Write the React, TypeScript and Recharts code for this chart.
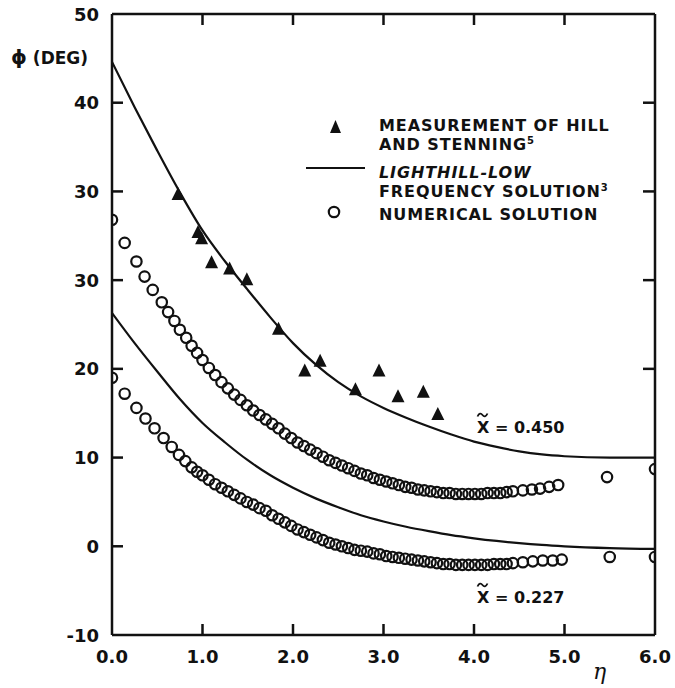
import React from 'react';
import { ComposedChart, Line, Scatter, XAxis, YAxis } from 'recharts';

// ---------- tick labels ----------
const xTicks = [0, 1, 2, 3, 4, 5, 6];
const xTickLabels = ['0.0', '1.0', '2.0', '3.0', '4.0', '5.0', '6.0'];
const topTicks = [1, 2, 3, 4, 5];
const yTicks = [-10, 0, 10, 20, 30, 40, 50, 60];
const yTickLabels = ['-10', '0', '10', '20', '30', '30', '40', '50'];
const rightTicks = [20, 30, 40, 50];

// ---------- measurement of Hill and Stenning ----------
const measX = [0.73, 0.95, 0.99, 1.10, 1.30, 1.49, 1.84, 2.13, 2.30, 2.69, 2.95, 3.16, 3.44, 3.60];
const measY = [39.6, 35.3, 34.6, 31.9, 31.2, 30.0, 24.4, 19.7, 20.8, 17.6, 19.7, 16.8, 17.3, 14.8];

// ---------- Lighthill low frequency solution ----------
const lineX = [0, 0.25, 0.5, 0.75, 1.0, 1.25, 1.5, 1.75, 2.0, 2.25, 2.5, 2.75, 3.0, 3.25, 3.5, 3.75, 4.0, 4.25, 4.5, 4.75, 5.0, 5.5, 6.0];
const lineHighY = [54.6, 49.5, 44.6, 39.9, 35.6, 32.1, 28.9, 25.8, 22.9, 20.5, 18.5, 16.9, 15.6, 14.5, 13.5, 12.6, 11.8, 11.2, 10.7, 10.35, 10.15, 10.0, 10.0];
const lineLowY = [26.3, 22.9, 19.7, 16.6, 13.9, 11.7, 9.7, 8.0, 6.6, 5.4, 4.4, 3.5, 2.8, 2.2, 1.7, 1.25, 0.9, 0.6, 0.35, 0.15, 0.0, -0.2, -0.3];

// ---------- numerical solution, x~ = 0.450 ----------
const numHighX = [
  0, 0.14, 0.27, 0.36, 0.45, 0.55, 0.62, 0.69, 0.75, 0.82, 0.88, 0.94, 1.00,
  1.07, 1.14, 1.21, 1.28, 1.35, 1.42, 1.49, 1.56, 1.63, 1.70, 1.77, 1.84, 1.91, 1.98,
  2.05, 2.12, 2.19, 2.26, 2.33, 2.40, 2.47, 2.54, 2.61, 2.68, 2.75, 2.82, 2.89, 2.96,
  3.03, 3.10, 3.17, 3.24, 3.31, 3.38, 3.45, 3.52, 3.59, 3.66, 3.73, 3.80, 3.87, 3.94,
  4.01, 4.08, 4.15, 4.22, 4.29, 4.36, 4.43, 4.54, 4.64, 4.73, 4.83, 4.93, 5.47, 6.00,
];
const numHighY = [
  36.8, 34.2, 32.1, 30.4, 28.9, 27.5, 26.4, 25.4, 24.4, 23.5, 22.6, 21.8, 21.0,
  20.1, 19.3, 18.5, 17.8, 17.1, 16.5, 15.9, 15.3, 14.8, 14.3, 13.8, 13.3, 12.7, 12.2,
  11.7, 11.3, 10.9, 10.5, 10.1, 9.7, 9.4, 9.1, 8.8, 8.5, 8.2, 8.0, 7.7, 7.5,
  7.3, 7.1, 6.9, 6.7, 6.6, 6.4, 6.3, 6.2, 6.1, 6.0, 6.0, 5.9, 5.9, 5.9,
  5.9, 5.9, 6.0, 6.0, 6.0, 6.1, 6.2, 6.3, 6.4, 6.5, 6.7, 6.9, 7.8, 8.7,
];

// ---------- numerical solution, x~ = 0.227 ----------
const numLowX = [
  0, 0.14, 0.27, 0.37, 0.47, 0.57, 0.66, 0.74, 0.81, 0.88, 0.94, 1.00,
  1.07, 1.14, 1.21, 1.28, 1.35, 1.42, 1.49, 1.56, 1.63, 1.70, 1.77, 1.84, 1.91, 1.98,
  2.05, 2.12, 2.19, 2.26, 2.33, 2.40, 2.47, 2.54, 2.61, 2.68, 2.75, 2.82, 2.89, 2.96,
  3.03, 3.10, 3.17, 3.24, 3.31, 3.38, 3.45, 3.52, 3.59, 3.66, 3.73, 3.80, 3.87, 3.94,
  4.01, 4.08, 4.15, 4.22, 4.29, 4.36, 4.43, 4.54, 4.65, 4.76, 4.87, 4.97, 5.50, 6.00,
];
const numLowY = [
  19.0, 17.2, 15.6, 14.4, 13.3, 12.2, 11.2, 10.3, 9.6, 8.9, 8.4, 8.0,
  7.5, 7.0, 6.6, 6.2, 5.8, 5.4, 5.0, 4.7, 4.3, 4.0, 3.5, 3.1, 2.7, 2.3,
  1.9, 1.6, 1.3, 1.0, 0.7, 0.4, 0.2, 0.0, -0.2, -0.4, -0.5, -0.6, -0.8, -0.9,
  -1.1, -1.2, -1.3, -1.4, -1.5, -1.6, -1.7, -1.8, -1.9, -2.0, -2.0, -2.1, -2.1, -2.1,
  -2.1, -2.1, -2.1, -2.0, -2.0, -2.0, -1.9, -1.8, -1.7, -1.6, -1.6, -1.5, -1.2, -1.2,
];

const pts = (xs: number[], ys: number[]) => xs.map((x, i) => ({ x, y: ys[i] }));
const measData = pts(measX, measY);
const lineHighData = pts(lineX, lineHighY);
const lineLowData = pts(lineX, lineLowY);
const numHighData = pts(numHighX, numHighY);
const numLowData = pts(numLowX, numLowY);

const FONT = '"DejaVu Sans", Verdana, sans-serif';
const INK = '#111';
const AXIS_W = 2.5;

const Triangle = (p: any) => {
  const { cx, cy } = p;
  if (cx == null || cy == null) return <g />;
  return <path d={`M${cx},${cy - 8}L${cx - 6.5},${cy + 5}L${cx + 6.5},${cy + 5}Z`} fill={INK} />;
};
const Ring = (p: any) => {
  const { cx, cy } = p;
  if (cx == null || cy == null) return <g />;
  return <circle cx={cx} cy={cy} r={5.2} fill="none" stroke={INK} strokeWidth={2.2} />;
};

const LeftTick = (p: any) => {
  const { x, y, payload } = p;
  const v = payload.value;
  const i = yTicks.indexOf(v);
  return (
    <g>
      <text x={x} y={y} dy={6.5} textAnchor="end" fontFamily={FONT} fontSize={18} fontWeight="bold" fill={INK}>
        {yTickLabels[i]}
      </text>
      {v > -10 && v < 60 && <line x1={x + 13} x2={x + 24} y1={y} y2={y} stroke={INK} strokeWidth={AXIS_W} />}
    </g>
  );
};
const BottomTick = (p: any) => {
  const { x, y, payload } = p;
  const v = payload.value;
  const i = xTicks.indexOf(v);
  return (
    <g>
      <text x={x} y={y + 28} textAnchor="middle" fontFamily={FONT} fontSize={18} fontWeight="bold" fill={INK}>
        {xTickLabels[i]}
      </text>
      {v > 0 && v < 6 && <line x1={x} x2={x} y1={y} y2={y - 11} stroke={INK} strokeWidth={AXIS_W} />}
    </g>
  );
};
const TopTick = (p: any) => {
  const { x, y } = p;
  return <line x1={x} x2={x} y1={y} y2={y + 11} stroke={INK} strokeWidth={AXIS_W} />;
};
const RightTick = (p: any) => {
  const { x, y } = p;
  return <line x1={x - 12} x2={x} y1={y} y2={y} stroke={INK} strokeWidth={AXIS_W} />;
};

const txt = { fontFamily: FONT, fontSize: 16, fontWeight: 'bold' as const, fill: INK, letterSpacing: 0.9 };

// small tilde accent drawn above the X of the curve annotations
const Tilde = ({ x, y }: { x: number; y: number }) => (
  <path
    d={`M${x - 5},${y + 1.5} C${x - 3.5},${y - 2} ${x - 1.5},${y - 2} ${x},${y} S${x + 3.5},${y + 2} ${x + 5},${y - 1.5}`}
    fill="none"
    stroke={INK}
    strokeWidth={1.8}
  />
);

export default function App() {
  return (
    <div style={{ position: 'absolute', left: 0, top: 0, width: 675, height: 688, background: '#fff' }}>
      <ComposedChart width={675} height={688} margin={{ top: 4, right: 0, bottom: 0, left: 0 }}>
        <XAxis
          xAxisId="b"
          dataKey="x"
          type="number"
          orientation="bottom"
          domain={[0, 6]}
          ticks={xTicks}
          interval={0}
          allowDataOverflow
          height={53}
          axisLine={{ stroke: INK, strokeWidth: AXIS_W }}
          tickLine={false}
          tickSize={0}
          tickMargin={0}
          tick={BottomTick}
        />
        <XAxis
          xAxisId="t"
          dataKey="x"
          type="number"
          orientation="top"
          domain={[0, 6]}
          ticks={topTicks}
          interval={0}
          allowDataOverflow
          height={10}
          axisLine={{ stroke: INK, strokeWidth: AXIS_W }}
          tickLine={false}
          tickSize={0}
          tickMargin={0}
          tick={TopTick}
        />
        <YAxis
          yAxisId="l"
          dataKey="y"
          type="number"
          orientation="left"
          domain={[-10, 60]}
          ticks={yTicks}
          interval={0}
          allowDataOverflow
          width={112}
          axisLine={{ stroke: INK, strokeWidth: AXIS_W }}
          tickLine={false}
          tickSize={0}
          tickMargin={13}
          tick={LeftTick}
        />
        <YAxis
          yAxisId="r"
          dataKey="y"
          type="number"
          orientation="right"
          domain={[-10, 60]}
          ticks={rightTicks}
          interval={0}
          allowDataOverflow
          width={20}
          axisLine={{ stroke: INK, strokeWidth: AXIS_W }}
          tickLine={false}
          tickSize={0}
          tickMargin={0}
          tick={RightTick}
        />
        <Line
          xAxisId="b"
          yAxisId="l"
          data={lineHighData}
          dataKey="y"
          type="monotone"
          stroke={INK}
          strokeWidth={2.2}
          dot={false}
          activeDot={false}
          isAnimationActive={false}
          name="Lighthill x=0.450"
        />
        <Line
          xAxisId="b"
          yAxisId="l"
          data={lineLowData}
          dataKey="y"
          type="monotone"
          stroke={INK}
          strokeWidth={2.2}
          dot={false}
          activeDot={false}
          isAnimationActive={false}
          name="Lighthill x=0.227"
        />
        <Scatter xAxisId="b" yAxisId="l" data={numHighData} dataKey="y" shape={Ring} isAnimationActive={false} name="Numerical x=0.450" />
        <Scatter xAxisId="b" yAxisId="l" data={numLowData} dataKey="y" shape={Ring} isAnimationActive={false} name="Numerical x=0.227" />
        <Scatter xAxisId="b" yAxisId="l" data={measData} dataKey="y" shape={Triangle} isAnimationActive={false} name="Measurement" />
      </ComposedChart>
      <svg width={675} height={688} style={{ position: 'absolute', left: 0, top: 0, pointerEvents: 'none' }}>
        {/* axis titles */}
        <text x={11} y={64} fontFamily={FONT} fontSize={17} fontWeight="bold" fill={INK}>
          <tspan fontSize={20}>ϕ</tspan> (DEG)
        </text>
        <text x={593} y={679} fontFamily='"DejaVu Serif", serif' fontStyle="italic" fontSize={22} fill={INK}>
          η
        </text>
        {/* legend */}
        <path d="M335.5,120L330,133L341,133Z" fill={INK} />
        <text x={379} y={131} {...txt}>MEASUREMENT OF HILL</text>
        <text x={379} y={150} {...txt}>
          AND STENNING<tspan fontSize={10} dy={-6}>5</tspan>
        </text>
        <line x1={306} x2={365} y1={168} y2={168} stroke={INK} strokeWidth={2.2} />
        <text x={379} y={178} {...txt} fontStyle="italic">LIGHTHILL-LOW</text>
        <text x={379} y={197} {...txt}>
          FREQUENCY SOLUTION<tspan fontSize={10} dy={-6}>3</tspan>
        </text>
        <circle cx={334} cy={212} r={5.2} fill="none" stroke={INK} strokeWidth={2.2} />
        <text x={379} y={220} {...txt}>NUMERICAL SOLUTION</text>
        {/* curve annotations */}
        <Tilde x={482.5} y={415} />
        <text x={477} y={433} fontFamily={FONT} fontSize={16} fontWeight="bold" fill={INK}>X = 0.450</text>
        <Tilde x={482.5} y={585} />
        <text x={477} y={603} fontFamily={FONT} fontSize={16} fontWeight="bold" fill={INK}>X = 0.227</text>
      </svg>
    </div>
  );
}
